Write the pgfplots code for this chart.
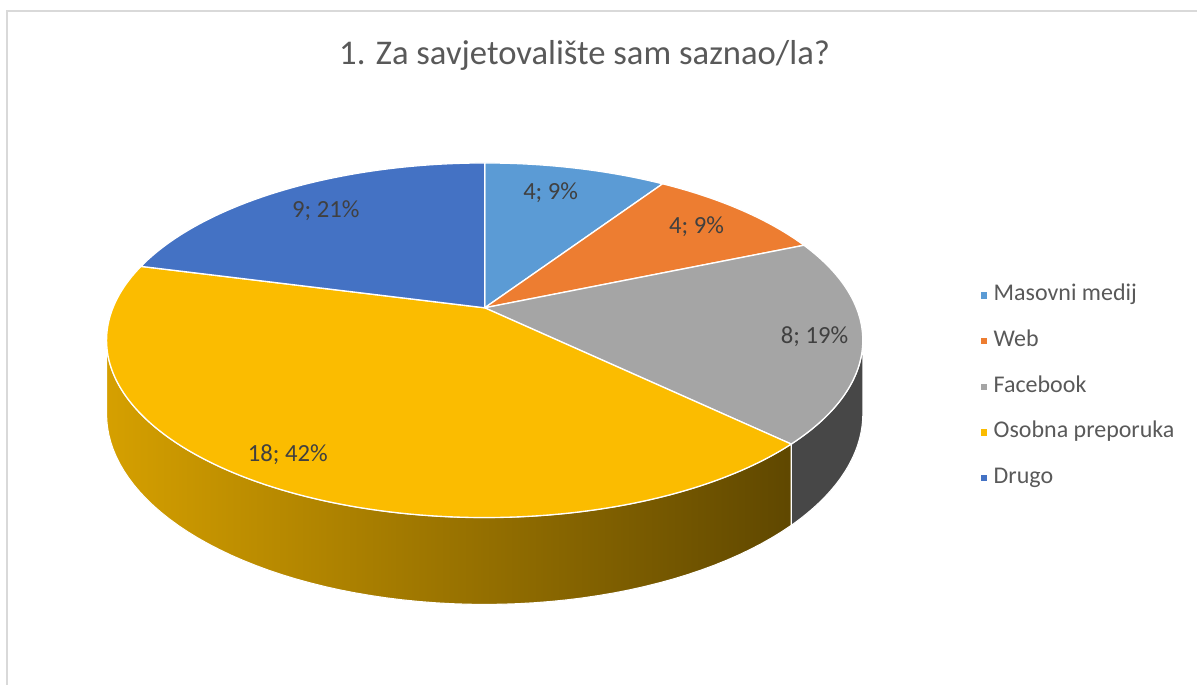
\documentclass[border=0pt]{standalone}
\usepackage{fontspec}
\setmainfont{Carlito}
\usepackage{pgfplots}
\pgfplotsset{compat=1.18}
\usepackage{pgfplotstable}

\definecolor{cMas}{HTML}{5B9BD5}
\definecolor{cWeb}{HTML}{ED7D31}
\definecolor{cFb}{HTML}{A5A5A5}
\definecolor{cOs}{HTML}{FBBC00}
\definecolor{cDr}{HTML}{4472C4}
\definecolor{titlegray}{HTML}{595959}
\definecolor{labelgray}{HTML}{404040}
\definecolor{framegray}{HTML}{D9D9D9}

% answers to question 1
\pgfplotstableread{
name value
Masovni 4
Web 4
Facebook 8
Osobna 18
Drugo 9
}\pietable

\pgfplotstablegetelem{0}{value}\of\pietable \let\vA\pgfplotsretval
\pgfplotstablegetelem{1}{value}\of\pietable \let\vB\pgfplotsretval
\pgfplotstablegetelem{2}{value}\of\pietable \let\vC\pgfplotsretval
\pgfplotstablegetelem{3}{value}\of\pietable \let\vD\pgfplotsretval
\pgfplotstablegetelem{4}{value}\of\pietable \let\vE\pgfplotsretval
\pgfmathsetmacro{\total}{\vA+\vB+\vC+\vD+\vE}
% cumulative angles, clockwise from 12 o'clock
\pgfmathsetmacro{\aA}{0}
\pgfmathsetmacro{\aB}{360*\vA/\total}
\pgfmathsetmacro{\aC}{360*(\vA+\vB)/\total}
\pgfmathsetmacro{\aD}{360*(\vA+\vB+\vC)/\total}
\pgfmathsetmacro{\aE}{360*(\vA+\vB+\vC+\vD)/\total}
\pgfmathsetmacro{\aF}{360}
% visible part of the side wall (silhouettes)
\pgfmathsetmacro{\sR}{max(\aC,180-acos(0.183))}
\pgfmathsetmacro{\sL}{min(\aE,180+acos(0.183))}

\begin{document}
\begin{tikzpicture}
\begin{axis}[
  scale only axis,
  width=898.5pt, height=513.75pt,
  xmin=0, xmax=1198, ymin=0, ymax=685,
  y dir=reverse,
  hide axis,
  clip=false,
  trig format plots=deg,
  declare function={
    px(\t)=485+372*sin(\t)/(1+0.183*cos(\t));
    py(\t)=308-171.5*cos(\t)/(1+0.183*cos(\t));
    ps(\t)=1/(1+0.183*cos(\t));
    wt(\u,\a,\b)=ifthenelse(\u<=1, \a+(\b-\a)*\u, ifthenelse(\u<=2, \b, \b-(\b-\a)*(\u-2)));
    wd(\u)=ifthenelse(\u<=1, 0, ifthenelse(\u<=2, \u-1, 1));
  },
  legend image code/.code={\fill[#1, draw=none] (0pt,-2.4pt) rectangle (4.8pt,2.4pt);},
  legend style={at={(axis cs:981,387)}, anchor=west, draw=none, fill=none,
    inner sep=0pt, row sep=18.3pt, column sep=5pt,
    font=\fontsize{18}{21}\selectfont, text=titlegray,
    nodes={inner sep=0pt, text height=12pt, text depth=4pt}},
  legend cell align=left,
]
\path (0,0) rectangle (1198,685);
\draw[framegray, line width=1.2pt] (7,685) -- (7,11) -- (1198,11);

% side walls
\addplot[forget plot, draw=white, line width=0.8pt, fill=black!72,
  domain=0:3, samples=181]
  ({px(wt(x,\sR,\aD))},{py(wt(x,\sR,\aD))+71*wd(x)*ps(wt(x,\sR,\aD))}) -- cycle;
\addplot[forget plot, draw=white, line width=0.8pt,
  left color=cOs!85!black, middle color=cOs!68!black, right color=cOs!38!black,
  domain=0:3, samples=181]
  ({px(wt(x,\aD,\sL))},{py(wt(x,\aD,\sL))+71*wd(x)*ps(wt(x,\aD,\sL))}) -- cycle;

% top faces
\addplot[fill=cMas, draw=white, line width=1pt, domain=\aA:\aB, samples=40]
  ({px(x)},{py(x)}) -- (485,308) -- cycle;
\addlegendentry{Masovni medij}
\addplot[fill=cWeb, draw=white, line width=1pt, domain=\aB:\aC, samples=40]
  ({px(x)},{py(x)}) -- (485,308) -- cycle;
\addlegendentry{Web}
\addplot[fill=cFb, draw=white, line width=1pt, domain=\aC:\aD, samples=60]
  ({px(x)},{py(x)}) -- (485,308) -- cycle;
\addlegendentry{Facebook}
\addplot[fill=cOs, draw=white, line width=1pt, domain=\aD:\aE, samples=120]
  ({px(x)},{py(x)}) -- (485,308) -- cycle;
\addlegendentry{Osobna preporuka}
\addplot[fill=cDr, draw=white, line width=1pt, domain=\aE:\aF, samples=60]
  ({px(x)},{py(x)}) -- (485,308) -- cycle;
\addlegendentry{Drugo}

% data labels
\begin{scope}[every node/.style={text=labelgray, font=\fontsize{18.5}{21}\selectfont}]
\node at (551,193) {4; 9\%};
\node at (697,227) {4; 9\%};
\node at (815,337) {8; 19\%};
\node at (288,455) {18; 42\%};
\node at (326,211) {9; 21\%};
\end{scope}

\node[text=titlegray, font=\fontsize{26}{30}\selectfont] at (585,55)
  {1. Za savjetovalište sam saznao/la?};
\end{axis}
\end{tikzpicture}
\end{document}
